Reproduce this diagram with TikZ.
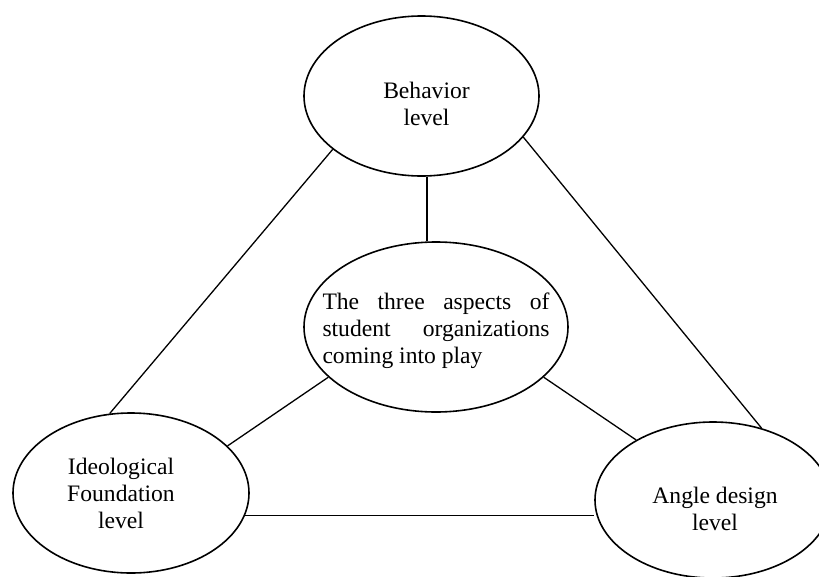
\documentclass[tikz,border=0pt]{standalone}
\usepackage{fontspec}
\setmainfont{Liberation Serif}
\usetikzlibrary{shapes.geometric}
\begin{document}
\begin{tikzpicture}[x=1pt,y=-1pt,
  aspect/.style={draw,ellipse,line width=1.6pt,inner sep=0pt},
  txt/.style={inner sep=0pt,align=center,font=\fontsize{23.6}{27}\selectfont},
  link/.style={line width=1.3pt}]
\clip (0,0) rectangle (819,576);

\node[aspect,minimum width=235pt,minimum height=160pt] (top) at (421.5,96) {};
\node[aspect,minimum width=264pt,minimum height=170pt] (mid) at (436,327) {};
\node[aspect,minimum width=236pt,minimum height=160pt] (left) at (131,493) {};
\node[aspect,minimum width=236pt,minimum height=156pt] (right) at (713,500) {};

\node[txt] (toptext) at ([xshift=5pt,yshift=-8pt]top) {Behavior\\level};
\node[txt,text width=227pt,align=justify] (midtext) at ([yshift=-4pt]mid)
  {The three aspects of\linebreak student organizations\linebreak coming into play};
\node[txt] (lefttext) at ([xshift=-10pt]left) {Ideological\\Foundation\\level};
\node[txt] (righttext) at ([xshift=2pt,yshift=-9pt]right) {Angle design\\level};

\draw[link] (top.-86) -- (top.-86 |- mid.north);
\draw[link] (top.211) -- (left.105);
\draw[link] (top.338) -- (right.56);
\draw[link] (mid.205) -- (left.26);
\draw[link] (mid.335) -- (right.142);
\draw[link] (left.-11) -- (left.-11 -| right.west);
\end{tikzpicture}
\end{document}
